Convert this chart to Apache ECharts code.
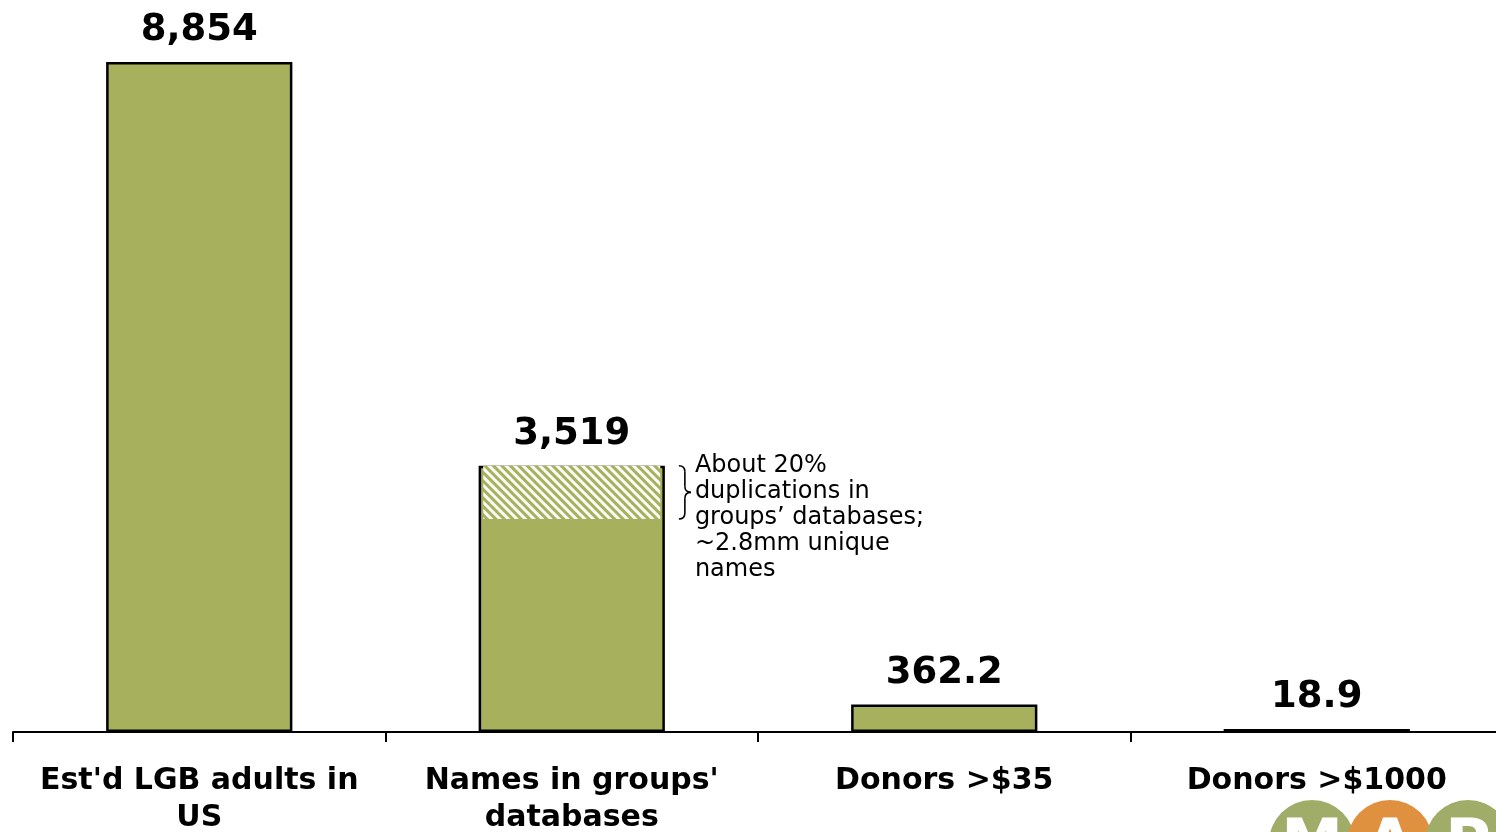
<!DOCTYPE html>
<html>
<head>
<meta charset="utf-8">
<script src="https://cdn.jsdelivr.net/npm/echarts@6/dist/echarts.min.js"></script>
<style>
html,body{margin:0;padding:0;background:#fff;overflow:hidden;}
#chart{width:1496px;height:832px;}
</style>
</head>
<body>
<div id="chart"></div>
<script>
// ---- data ----
const categories = ["Est'd LGB adults in\nUS", "Names in groups'\ndatabases", "Donors >$35", "Donors >$1000"];
const totals = [8854, 3519, 362.2, 18.9];
const duplicates = [null, 704, null, null];   // ~20% duplicated names
const annotationText = "About 20%\nduplications in\ngroups\u2019 databases;\n~2.8mm unique\nnames";

const GREEN = '#A6B05D';
const FONT = 'DejaVu Sans';

const fmt = v => (v >= 1000 ? v.toLocaleString('en-US') : String(v));

const baseUnder = totals.map((t, i) => duplicates[i] == null ? null : t - duplicates[i]);

const chart = echarts.init(document.getElementById('chart'));

const option = {
  animation: false,
  backgroundColor: '#fff',
  grid: { left: 13, top: 62, width: 1490, height: 670, outerBoundsMode: 'none', containLabel: false },
  xAxis: [
    {
      type: 'category',
      data: categories,
      axisLine: { lineStyle: { color: '#000', width: 2 } },
      axisTick: { show: true, length: 10, lineStyle: { color: '#000', width: 2 } },
      axisLabel: {
        color: '#000', fontFamily: FONT, fontWeight: 'bold', fontSize: 30,
        lineHeight: 37, margin: 31, interval: 0
      },
      z: 5
    },
    { type: 'category', data: categories, show: false }
  ],
  yAxis: { type: 'value', min: 0, max: 8854, show: false, splitLine: { show: false } },
  series: [
    {
      type: 'bar',
      name: 'total',
      xAxisIndex: 0,
      barWidth: '50%',
      barMinHeight: 3,
      data: totals,
      itemStyle: { color: GREEN, borderColor: '#000', borderWidth: 2.5 },
      label: {
        show: true, position: 'top', distance: 13,
        color: '#000', fontFamily: FONT, fontWeight: 'bold', fontSize: 37,
        formatter: p => fmt(p.value)
      },
      z: 2
    },
    {
      type: 'bar',
      name: 'base',
      xAxisIndex: 1,
      stack: 's',
      barWidth: '47.5%',
      data: baseUnder,
      itemStyle: { color: 'rgba(0,0,0,0)' },
      silent: true,
      z: 3
    },
    {
      type: 'bar',
      name: 'dup',
      xAxisIndex: 1,
      stack: 's',
      barWidth: '47.5%',
      data: duplicates,
      itemStyle: {
        color: GREEN,
        decal: {
          symbol: 'rect', symbolSize: 1, dashArrayX: [1, 0], dashArrayY: [3, 3],
          rotation: Math.PI / 4, color: 'rgba(255,255,255,0.95)'
        }
      },
      z: 4
    }
  ]
};
chart.setOption(option);

// annotation brace + text next to the duplicated segment
function drawAnnotation() {
  const idx = duplicates.findIndex(d => d != null);
  const top = chart.convertToPixel({ gridIndex: 0 }, [idx, totals[idx]]);
  const bot = chart.convertToPixel({ gridIndex: 0 }, [idx, totals[idx] - duplicates[idx]]);
  const bandW = chart.getModel().getComponent('xAxis', 0).axis.getBandWidth();
  const x0 = top[0] + bandW * 0.25 + 14;
  const y0 = top[1], y1 = bot[1], ym = (y0 + y1) / 2;
  const xm = x0 + 6, xe = x0 + 12;
  const st = { stroke: '#000', lineWidth: 1.6, fill: 'none' };
  const brace = [
    { type: 'bezierCurve', shape: { x1: x0, y1: y0, x2: xm, y2: y0 + 6, cpx1: xm, cpy1: y0 }, style: st },
    { type: 'line', shape: { x1: xm, y1: y0 + 6, x2: xm, y2: ym - 6 }, style: st },
    { type: 'bezierCurve', shape: { x1: xm, y1: ym - 6, x2: xe, y2: ym, cpx1: xm, cpy1: ym }, style: st },
    { type: 'bezierCurve', shape: { x1: xe, y1: ym, x2: xm, y2: ym + 6, cpx1: xm, cpy1: ym }, style: st },
    { type: 'line', shape: { x1: xm, y1: ym + 6, x2: xm, y2: y1 - 6 }, style: st },
    { type: 'bezierCurve', shape: { x1: xm, y1: y1 - 6, x2: x0, y2: y1, cpx1: xm, cpy1: y1 }, style: st }
  ].map(e => Object.assign(e, { z: 10 }));

  // logo (decorative, bottom-right)
  const logo = [
    { cx: 1312, color: '#A0AD69', ch: 'M' },
    { cx: 1390, color: '#E0913F', ch: 'A' },
    { cx: 1468, color: '#A0AD69', ch: 'P' }
  ];
  const logoEls = [];
  logo.forEach(l => {
    logoEls.push({ type: 'circle', shape: { cx: l.cx, cy: 843, r: 43 }, style: { fill: l.color }, z: 10 });
  });
  logo.forEach(l => {
    logoEls.push({ type: 'text', x: l.cx, y: 816, style: { text: l.ch, fill: '#fff', font: 'bold 62px ' + FONT, align: 'center', verticalAlign: 'top' }, z: 11 });
  });

  chart.setOption({
    graphic: [
      ...brace,
      {
        type: 'text', x: xe + 4, y: y0 - 13,
        style: { text: annotationText, fill: '#000', font: '24px ' + FONT, lineHeight: 26, verticalAlign: 'top', align: 'left' },
        z: 10
      },
      ...logoEls
    ]
  });
}
drawAnnotation();
</script>
</body>
</html>
